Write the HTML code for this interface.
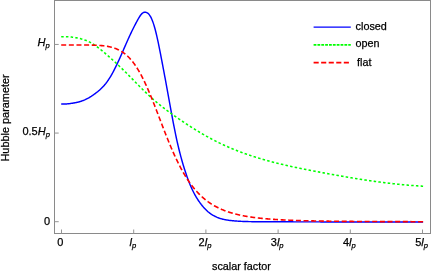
<!DOCTYPE html>
<html><head><meta charset="utf-8"><title>plot</title>
<style>
html,body{margin:0;padding:0;background:#fff;}
svg{display:block;}
text{font-family:"Liberation Sans",sans-serif;fill:#000;stroke:#000;stroke-width:0.25px;}
</style></head><body>
<svg width="432" height="273" viewBox="0 0 432 273">
<rect width="432" height="273" fill="#fff"/>
<rect x="54.5" y="0.5" width="376.0" height="233.0" fill="none" stroke="#8a8a8a" stroke-width="1"/>
<path d="M61.50,233.5 V229.5 M133.70,233.5 V229.5 M205.90,233.5 V229.5 M278.10,233.5 V229.5 M350.30,233.5 V229.5 M422.50,233.5 V229.5 M54.5,221.70 H58.7 M54.5,133.07 H58.7 M54.5,44.45 H58.7" stroke="#949494" stroke-width="1" fill="none"/>
<path d="M61.2,104.00 L61.7,104.02 L62.2,104.04 L62.7,104.05 L63.2,104.05 L63.7,104.05 L64.2,104.04 L64.7,104.03 L65.2,104.01 L65.7,103.98 L66.2,103.95 L66.7,103.91 L67.2,103.87 L67.7,103.82 L68.2,103.77 L68.7,103.72 L69.2,103.66 L69.7,103.60 L70.2,103.54 L70.7,103.47 L71.2,103.40 L71.7,103.32 L72.2,103.25 L72.7,103.17 L73.2,103.09 L73.7,103.01 L74.2,102.92 L74.7,102.83 L75.2,102.74 L75.7,102.64 L76.2,102.54 L76.7,102.43 L77.2,102.32 L77.7,102.20 L78.2,102.08 L78.7,101.95 L79.2,101.82 L79.7,101.68 L80.2,101.53 L80.7,101.38 L81.2,101.22 L81.7,101.05 L82.2,100.87 L82.7,100.69 L83.2,100.50 L83.7,100.30 L84.2,100.09 L84.7,99.88 L85.2,99.65 L85.7,99.42 L86.2,99.18 L86.7,98.93 L87.2,98.67 L87.7,98.40 L88.2,98.13 L88.7,97.84 L89.2,97.56 L89.7,97.26 L90.2,96.95 L90.7,96.64 L91.2,96.33 L91.7,96.00 L92.2,95.67 L92.7,95.33 L93.2,94.99 L93.7,94.64 L94.2,94.28 L94.7,93.92 L95.2,93.55 L95.7,93.17 L96.2,92.79 L96.7,92.41 L97.2,92.01 L97.7,91.62 L98.2,91.21 L98.7,90.79 L99.2,90.37 L99.7,89.93 L100.2,89.48 L100.7,89.02 L101.2,88.55 L101.7,88.07 L102.2,87.57 L102.7,87.06 L103.2,86.53 L103.7,85.98 L104.2,85.42 L104.7,84.84 L105.2,84.24 L105.7,83.63 L106.2,82.99 L106.7,82.33 L107.2,81.65 L107.7,80.95 L108.2,80.22 L108.7,79.47 L109.2,78.70 L109.7,77.91 L110.2,77.10 L110.7,76.26 L111.2,75.41 L111.7,74.53 L112.2,73.64 L112.7,72.73 L113.2,71.80 L113.7,70.85 L114.2,69.89 L114.7,68.91 L115.2,67.92 L115.7,66.91 L116.2,65.88 L116.7,64.85 L117.2,63.80 L117.7,62.74 L118.2,61.67 L118.7,60.58 L119.2,59.49 L119.7,58.38 L120.2,57.27 L120.7,56.15 L121.2,55.02 L121.7,53.89 L122.2,52.75 L122.7,51.60 L123.2,50.46 L123.7,49.31 L124.2,48.16 L124.7,47.01 L125.2,45.86 L125.7,44.72 L126.2,43.58 L126.7,42.44 L127.2,41.31 L127.7,40.18 L128.2,39.06 L128.7,37.96 L129.2,36.86 L129.7,35.77 L130.2,34.69 L130.7,33.63 L131.2,32.58 L131.7,31.54 L132.2,30.51 L132.7,29.50 L133.2,28.49 L133.7,27.50 L134.2,26.52 L134.7,25.54 L135.2,24.58 L135.7,23.63 L136.2,22.68 L136.7,21.74 L137.2,20.82 L137.7,19.90 L138.2,19.00 L138.7,18.13 L139.2,17.29 L139.7,16.49 L140.2,15.75 L140.7,15.06 L141.2,14.43 L141.7,13.87 L142.2,13.40 L142.7,13.00 L143.2,12.69 L143.7,12.46 L144.2,12.30 L144.7,12.21 L145.2,12.20 L145.7,12.25 L146.2,12.37 L146.7,12.56 L147.2,12.82 L147.7,13.15 L148.2,13.56 L148.7,14.05 L149.2,14.64 L149.7,15.31 L150.2,16.09 L150.7,16.96 L151.2,17.93 L151.7,19.01 L152.2,20.19 L152.7,21.48 L153.2,22.87 L153.7,24.37 L154.2,25.98 L154.7,27.70 L155.2,29.52 L155.7,31.46 L156.2,33.49 L156.7,35.62 L157.2,37.83 L157.7,40.11 L158.2,42.47 L158.7,44.88 L159.2,47.34 L159.7,49.85 L160.2,52.39 L160.7,54.96 L161.2,57.55 L161.7,60.15 L162.2,62.76 L162.7,65.39 L163.2,68.03 L163.7,70.68 L164.2,73.34 L164.7,76.02 L165.2,78.70 L165.7,81.40 L166.2,84.11 L166.7,86.83 L167.2,89.56 L167.7,92.30 L168.2,95.05 L168.7,97.81 L169.2,100.57 L169.7,103.33 L170.2,106.09 L170.7,108.84 L171.2,111.57 L171.7,114.29 L172.2,116.99 L172.7,119.66 L173.2,122.29 L173.7,124.90 L174.2,127.46 L174.7,129.98 L175.2,132.46 L175.7,134.88 L176.2,137.24 L176.7,139.55 L177.2,141.80 L177.7,143.99 L178.2,146.13 L178.7,148.22 L179.2,150.26 L179.7,152.25 L180.2,154.19 L180.7,156.08 L181.2,157.93 L181.7,159.74 L182.2,161.50 L182.7,163.23 L183.2,164.92 L183.7,166.57 L184.2,168.18 L184.7,169.76 L185.2,171.31 L185.7,172.82 L186.2,174.30 L186.7,175.75 L187.2,177.16 L187.7,178.54 L188.2,179.89 L188.7,181.20 L189.2,182.48 L189.7,183.73 L190.2,184.94 L190.7,186.12 L191.2,187.27 L191.7,188.38 L192.2,189.47 L192.7,190.52 L193.2,191.54 L193.7,192.53 L194.2,193.49 L194.7,194.42 L195.2,195.32 L195.7,196.20 L196.2,197.05 L196.7,197.88 L197.2,198.69 L197.7,199.47 L198.2,200.24 L198.7,200.98 L199.2,201.70 L199.7,202.40 L200.2,203.09 L200.7,203.76 L201.2,204.42 L201.7,205.05 L202.2,205.67 L202.7,206.28 L203.2,206.87 L203.7,207.44 L204.2,207.99 L204.7,208.53 L205.2,209.06 L205.7,209.57 L206.2,210.06 L206.7,210.54 L207.2,211.00 L207.7,211.45 L208.2,211.88 L208.7,212.29 L209.2,212.70 L209.7,213.08 L210.2,213.46 L210.7,213.81 L211.2,214.16 L211.7,214.49 L212.2,214.81 L212.7,215.12 L213.2,215.42 L213.7,215.70 L214.2,215.97 L214.7,216.23 L215.2,216.48 L215.7,216.72 L216.2,216.95 L216.7,217.17 L217.2,217.39 L217.7,217.59 L218.2,217.78 L218.7,217.97 L219.2,218.14 L219.7,218.31 L220.2,218.48 L220.7,218.63 L221.2,218.78 L221.7,218.92 L222.2,219.05 L222.7,219.18 L223.2,219.30 L223.7,219.41 L224.2,219.52 L224.7,219.63 L225.2,219.73 L225.7,219.82 L226.2,219.91 L226.7,219.99 L227.2,220.07 L227.7,220.15 L228.2,220.22 L228.7,220.29 L229.2,220.36 L229.7,220.42 L230.2,220.48 L230.7,220.53 L231.2,220.59 L231.7,220.64 L232.2,220.69 L232.7,220.74 L233.2,220.79 L233.7,220.83 L234.2,220.88 L234.7,220.92 L235.2,220.96 L235.7,221.00 L236.2,221.04 L236.7,221.08 L237.2,221.11 L237.7,221.15 L238.2,221.18 L238.7,221.21 L239.2,221.24 L239.7,221.27 L240.2,221.30 L240.7,221.32 L241.2,221.35 L241.7,221.37 L242.2,221.39 L242.6,221.42 L243.1,221.44 L243.6,221.46 L244.1,221.47 L244.6,221.49 L245.1,221.51 L245.6,221.52 L246.1,221.54 L246.6,221.55 L247.1,221.57 L247.6,221.58 L248.1,221.59 L248.6,221.60 L249.1,221.61 L249.6,221.62 L250.1,221.63 L250.6,221.64 L251.1,221.65 L251.6,221.65 L252.1,221.66 L252.6,221.67 L253.1,221.67 L253.6,221.68 L254.1,221.68 L254.6,221.69 L255.1,221.69 L255.6,221.69 L256.1,221.70 L256.6,221.70 L257.1,221.71 L257.6,221.71 L258.1,221.71 L258.6,221.71 L259.1,221.72 L259.6,221.72 L260.1,221.72 L260.6,221.72 L261.1,221.73 L261.6,221.73 L262.1,221.73 L262.6,221.73 L263.1,221.74 L263.6,221.74 L264.1,221.74 L264.6,221.74 L265.1,221.74 L265.6,221.75 L266.1,221.75 L266.6,221.75 L267.1,221.75 L267.6,221.76 L268.1,221.76 L268.6,221.76 L269.1,221.76 L269.6,221.76 L270.1,221.77 L270.6,221.77 L271.1,221.77 L271.6,221.77 L272.1,221.77 L272.6,221.78 L273.1,221.78 L273.6,221.78 L274.1,221.78 L274.6,221.78 L275.1,221.79 L275.6,221.79 L276.1,221.79 L276.6,221.79 L277.1,221.79 L277.6,221.80 L278.1,221.80 L278.6,221.80 L279.1,221.80 L279.6,221.80 L280.1,221.80 L280.6,221.81 L281.1,221.81 L281.6,221.81 L282.1,221.81 L282.6,221.81 L283.1,221.81 L283.6,221.82 L284.1,221.82 L284.6,221.82 L285.1,221.82 L285.6,221.82 L286.1,221.82 L286.6,221.83 L287.1,221.83 L287.6,221.83 L288.1,221.83 L288.6,221.83 L289.1,221.83 L289.6,221.83 L290.1,221.84 L290.6,221.84 L291.1,221.84 L291.6,221.84 L292.1,221.84 L292.6,221.84 L293.1,221.84 L293.6,221.85 L294.1,221.85 L294.6,221.85 L295.1,221.85 L295.6,221.85 L296.1,221.85 L296.6,221.85 L297.1,221.85 L297.6,221.86 L298.1,221.86 L298.6,221.86 L299.1,221.86 L299.6,221.86 L300.1,221.86 L300.6,221.86 L301.1,221.86 L301.6,221.86 L302.1,221.87 L302.6,221.87 L303.1,221.87 L303.6,221.87 L304.1,221.87 L304.6,221.87 L305.1,221.87 L305.6,221.87 L306.1,221.87 L306.6,221.87 L307.1,221.88 L307.6,221.88 L308.1,221.88 L308.6,221.88 L309.1,221.88 L309.6,221.88 L310.1,221.88 L310.6,221.88 L311.1,221.88 L311.6,221.88 L312.1,221.88 L312.6,221.88 L313.1,221.89 L313.6,221.89 L314.1,221.89 L314.6,221.89 L315.1,221.89 L315.6,221.89 L316.1,221.89 L316.6,221.89 L317.1,221.89 L317.6,221.89 L318.1,221.89 L318.6,221.89 L319.1,221.89 L319.6,221.89 L320.1,221.90 L320.6,221.90 L321.1,221.90 L321.6,221.90 L322.1,221.90 L322.6,221.90 L323.1,221.90 L323.6,221.90 L324.1,221.90 L324.6,221.90 L325.1,221.90 L325.6,221.90 L326.1,221.90 L326.6,221.90 L327.1,221.90 L327.6,221.90 L328.1,221.90 L328.6,221.90 L329.1,221.90 L329.6,221.90 L330.1,221.90 L330.6,221.90 L331.1,221.90 L331.6,221.90 L332.1,221.90 L332.6,221.90 L333.1,221.90 L333.6,221.90 L334.1,221.90 L334.6,221.90 L335.1,221.90 L335.6,221.90 L336.1,221.90 L336.6,221.90 L337.1,221.90 L337.6,221.90 L338.1,221.90 L338.6,221.90 L339.1,221.90 L339.6,221.90 L340.1,221.90 L340.6,221.90 L341.1,221.90 L341.6,221.90 L342.1,221.90 L342.6,221.90 L343.1,221.90 L343.6,221.90 L344.1,221.90 L344.6,221.90 L345.1,221.90 L345.6,221.90 L346.1,221.90 L346.6,221.90 L347.1,221.90 L347.6,221.90 L348.1,221.90 L348.6,221.90 L349.1,221.90 L349.6,221.90 L350.1,221.90 L350.6,221.90 L351.1,221.90 L351.6,221.90 L352.1,221.90 L352.6,221.90 L353.1,221.90 L353.6,221.90 L354.1,221.90 L354.6,221.90 L355.1,221.90 L355.6,221.90 L356.1,221.90 L356.6,221.90 L357.1,221.90 L357.6,221.90 L358.1,221.90 L358.6,221.90 L359.1,221.90 L359.6,221.90 L360.1,221.90 L360.6,221.90 L361.1,221.90 L361.6,221.90 L362.1,221.90 L362.6,221.90 L363.1,221.90 L363.6,221.90 L364.1,221.90 L364.6,221.90 L365.1,221.90 L365.6,221.90 L366.1,221.90 L366.6,221.90 L367.1,221.90 L367.6,221.90 L368.1,221.90 L368.6,221.90 L369.1,221.90 L369.6,221.90 L370.1,221.90 L370.6,221.90 L371.1,221.90 L371.6,221.90 L372.1,221.90 L372.6,221.90 L373.1,221.90 L373.6,221.90 L374.1,221.90 L374.6,221.90 L375.1,221.90 L375.6,221.90 L376.1,221.90 L376.6,221.90 L377.1,221.90 L377.6,221.90 L378.1,221.90 L378.6,221.90 L379.1,221.90 L379.6,221.90 L380.1,221.90 L380.6,221.90 L381.1,221.90 L381.6,221.90 L382.1,221.90 L382.6,221.90 L383.1,221.90 L383.6,221.90 L384.1,221.90 L384.6,221.90 L385.1,221.90 L385.6,221.90 L386.1,221.90 L386.6,221.90 L387.1,221.90 L387.6,221.90 L388.1,221.90 L388.6,221.90 L389.1,221.90 L389.6,221.90 L390.1,221.90 L390.6,221.90 L391.1,221.90 L391.6,221.90 L392.1,221.90 L392.6,221.90 L393.1,221.90 L393.6,221.90 L394.1,221.90 L394.6,221.90 L395.1,221.90 L395.6,221.90 L396.1,221.90 L396.6,221.90 L397.1,221.90 L397.6,221.90 L398.1,221.90 L398.6,221.90 L399.1,221.90 L399.6,221.90 L400.1,221.90 L400.6,221.90 L401.1,221.90 L401.6,221.90 L402.1,221.90 L402.6,221.90 L403.1,221.90 L403.6,221.90 L404.1,221.90 L404.6,221.90 L405.1,221.90 L405.6,221.90 L406.1,221.90 L406.6,221.90 L407.1,221.90 L407.6,221.90 L408.1,221.90 L408.6,221.90 L409.1,221.90 L409.6,221.90 L410.1,221.90 L410.6,221.90 L411.1,221.90 L411.6,221.90 L412.1,221.90 L412.6,221.90 L413.1,221.90 L413.6,221.90 L414.1,221.90 L414.6,221.90 L415.1,221.90 L415.6,221.90 L416.1,221.90 L416.6,221.90 L417.1,221.90 L417.6,221.90 L418.1,221.90 L418.6,221.90 L419.1,221.90 L419.6,221.90 L420.1,221.90 L420.6,221.90 L421.1,221.90 L421.6,221.90 L422.1,221.90 L422.6,221.90 L423.1,221.90" stroke="#0000ff" stroke-width="1.45" fill="none"/>
<path d="M61.2,36.76 L61.7,36.73 L62.2,36.70 L62.7,36.68 L63.2,36.66 L63.7,36.65 L64.2,36.64 L64.7,36.64 L65.2,36.65 L65.7,36.65 L66.2,36.67 L66.7,36.69 L67.2,36.71 L67.7,36.73 L68.2,36.77 L68.7,36.80 L69.2,36.84 L69.7,36.89 L70.2,36.93 L70.7,36.98 L71.2,37.04 L71.7,37.10 L72.2,37.16 L72.7,37.23 L73.2,37.30 L73.7,37.37 L74.2,37.45 L74.7,37.52 L75.2,37.61 L75.7,37.69 L76.2,37.78 L76.7,37.87 L77.2,37.97 L77.7,38.06 L78.2,38.17 L78.7,38.27 L79.2,38.39 L79.7,38.50 L80.2,38.62 L80.7,38.75 L81.2,38.88 L81.7,39.02 L82.2,39.16 L82.7,39.31 L83.2,39.46 L83.7,39.62 L84.2,39.79 L84.7,39.97 L85.2,40.15 L85.7,40.33 L86.2,40.53 L86.7,40.73 L87.2,40.94 L87.7,41.16 L88.2,41.39 L88.7,41.63 L89.2,41.87 L89.7,42.12 L90.2,42.39 L90.7,42.66 L91.2,42.94 L91.7,43.23 L92.2,43.52 L92.7,43.83 L93.2,44.14 L93.7,44.46 L94.2,44.79 L94.7,45.13 L95.2,45.47 L95.7,45.82 L96.2,46.17 L96.7,46.53 L97.2,46.90 L97.7,47.27 L98.2,47.65 L98.7,48.03 L99.2,48.42 L99.7,48.81 L100.2,49.21 L100.7,49.61 L101.2,50.01 L101.7,50.42 L102.2,50.83 L102.7,51.25 L103.2,51.67 L103.7,52.09 L104.2,52.51 L104.7,52.93 L105.2,53.36 L105.7,53.79 L106.2,54.22 L106.7,54.65 L107.2,55.09 L107.7,55.52 L108.2,55.96 L108.7,56.40 L109.2,56.84 L109.7,57.28 L110.2,57.72 L110.7,58.17 L111.2,58.62 L111.7,59.06 L112.2,59.51 L112.7,59.97 L113.2,60.42 L113.7,60.88 L114.2,61.33 L114.7,61.79 L115.2,62.25 L115.7,62.72 L116.2,63.18 L116.7,63.65 L117.2,64.11 L117.7,64.58 L118.2,65.05 L118.7,65.53 L119.2,66.00 L119.7,66.48 L120.2,66.96 L120.7,67.44 L121.2,67.92 L121.7,68.40 L122.2,68.88 L122.7,69.37 L123.2,69.86 L123.7,70.35 L124.2,70.84 L124.7,71.33 L125.2,71.83 L125.7,72.32 L126.2,72.82 L126.7,73.32 L127.2,73.82 L127.7,74.32 L128.2,74.82 L128.7,75.33 L129.2,75.83 L129.7,76.34 L130.2,76.84 L130.7,77.35 L131.2,77.86 L131.7,78.37 L132.2,78.88 L132.7,79.39 L133.2,79.90 L133.7,80.40 L134.2,80.91 L134.7,81.42 L135.2,81.93 L135.7,82.44 L136.2,82.95 L136.7,83.46 L137.2,83.96 L137.7,84.47 L138.2,84.98 L138.7,85.48 L139.2,85.99 L139.7,86.49 L140.2,86.99 L140.7,87.49 L141.2,87.99 L141.7,88.49 L142.2,88.98 L142.7,89.48 L143.2,89.97 L143.7,90.46 L144.2,90.95 L144.7,91.44 L145.2,91.92 L145.7,92.41 L146.2,92.89 L146.7,93.37 L147.2,93.84 L147.7,94.32 L148.2,94.79 L148.7,95.25 L149.2,95.72 L149.7,96.18 L150.2,96.64 L150.7,97.09 L151.2,97.55 L151.7,98.00 L152.2,98.44 L152.7,98.89 L153.2,99.33 L153.7,99.76 L154.2,100.20 L154.7,100.63 L155.2,101.06 L155.7,101.49 L156.2,101.91 L156.7,102.33 L157.2,102.75 L157.7,103.16 L158.2,103.58 L158.7,103.99 L159.2,104.40 L159.7,104.80 L160.2,105.21 L160.7,105.61 L161.2,106.01 L161.7,106.40 L162.2,106.80 L162.7,107.19 L163.2,107.58 L163.7,107.97 L164.2,108.35 L164.7,108.74 L165.2,109.12 L165.7,109.50 L166.2,109.87 L166.7,110.25 L167.2,110.62 L167.7,111.00 L168.2,111.37 L168.7,111.74 L169.2,112.10 L169.7,112.47 L170.2,112.83 L170.7,113.19 L171.2,113.55 L171.7,113.91 L172.2,114.27 L172.7,114.63 L173.2,114.98 L173.7,115.33 L174.2,115.69 L174.7,116.04 L175.2,116.39 L175.7,116.73 L176.2,117.08 L176.7,117.43 L177.2,117.77 L177.7,118.12 L178.2,118.46 L178.7,118.80 L179.2,119.14 L179.7,119.48 L180.2,119.82 L180.7,120.16 L181.2,120.50 L181.7,120.83 L182.2,121.17 L182.7,121.50 L183.2,121.84 L183.7,122.17 L184.2,122.50 L184.7,122.83 L185.2,123.17 L185.7,123.49 L186.2,123.82 L186.7,124.15 L187.2,124.48 L187.7,124.80 L188.2,125.13 L188.7,125.45 L189.2,125.77 L189.7,126.09 L190.2,126.41 L190.7,126.73 L191.2,127.05 L191.7,127.37 L192.2,127.69 L192.7,128.00 L193.2,128.32 L193.7,128.63 L194.2,128.94 L194.7,129.25 L195.2,129.56 L195.7,129.87 L196.2,130.18 L196.7,130.48 L197.2,130.79 L197.7,131.09 L198.2,131.39 L198.7,131.69 L199.2,131.99 L199.7,132.29 L200.2,132.59 L200.7,132.89 L201.2,133.18 L201.7,133.48 L202.2,133.77 L202.7,134.06 L203.2,134.35 L203.7,134.64 L204.2,134.93 L204.7,135.21 L205.2,135.50 L205.7,135.78 L206.2,136.06 L206.7,136.34 L207.2,136.62 L207.7,136.90 L208.2,137.17 L208.7,137.45 L209.2,137.72 L209.7,138.00 L210.2,138.27 L210.7,138.53 L211.2,138.80 L211.7,139.07 L212.2,139.33 L212.7,139.60 L213.2,139.86 L213.7,140.12 L214.2,140.38 L214.7,140.63 L215.2,140.89 L215.7,141.14 L216.2,141.40 L216.7,141.65 L217.2,141.90 L217.7,142.14 L218.2,142.39 L218.7,142.64 L219.2,142.88 L219.7,143.12 L220.2,143.36 L220.7,143.60 L221.2,143.84 L221.7,144.07 L222.2,144.31 L222.7,144.54 L223.2,144.77 L223.7,145.00 L224.2,145.23 L224.7,145.46 L225.2,145.69 L225.7,145.91 L226.2,146.13 L226.7,146.36 L227.2,146.58 L227.7,146.80 L228.2,147.01 L228.7,147.23 L229.2,147.44 L229.7,147.66 L230.2,147.87 L230.7,148.08 L231.2,148.29 L231.7,148.50 L232.2,148.71 L232.7,148.91 L233.2,149.12 L233.7,149.32 L234.2,149.53 L234.7,149.73 L235.2,149.93 L235.7,150.12 L236.2,150.32 L236.7,150.52 L237.2,150.71 L237.7,150.91 L238.2,151.10 L238.7,151.29 L239.2,151.48 L239.7,151.67 L240.2,151.86 L240.7,152.05 L241.2,152.23 L241.7,152.42 L242.2,152.60 L242.6,152.78 L243.1,152.96 L243.6,153.14 L244.1,153.32 L244.6,153.50 L245.1,153.68 L245.6,153.85 L246.1,154.03 L246.6,154.20 L247.1,154.37 L247.6,154.55 L248.1,154.72 L248.6,154.89 L249.1,155.06 L249.6,155.22 L250.1,155.39 L250.6,155.56 L251.1,155.72 L251.6,155.88 L252.1,156.05 L252.6,156.21 L253.1,156.37 L253.6,156.53 L254.1,156.69 L254.6,156.85 L255.1,157.01 L255.6,157.16 L256.1,157.32 L256.6,157.47 L257.1,157.63 L257.6,157.78 L258.1,157.93 L258.6,158.08 L259.1,158.23 L259.6,158.38 L260.1,158.53 L260.6,158.68 L261.1,158.83 L261.6,158.98 L262.1,159.12 L262.6,159.27 L263.1,159.41 L263.6,159.55 L264.1,159.70 L264.6,159.84 L265.1,159.98 L265.6,160.12 L266.1,160.26 L266.6,160.40 L267.1,160.54 L267.6,160.67 L268.1,160.81 L268.6,160.95 L269.1,161.08 L269.6,161.22 L270.1,161.35 L270.6,161.48 L271.1,161.62 L271.6,161.75 L272.1,161.88 L272.6,162.01 L273.1,162.14 L273.6,162.27 L274.1,162.40 L274.6,162.52 L275.1,162.65 L275.6,162.78 L276.1,162.90 L276.6,163.03 L277.1,163.15 L277.6,163.28 L278.1,163.40 L278.6,163.53 L279.1,163.65 L279.6,163.77 L280.1,163.89 L280.6,164.01 L281.1,164.13 L281.6,164.25 L282.1,164.37 L282.6,164.49 L283.1,164.61 L283.6,164.72 L284.1,164.84 L284.6,164.96 L285.1,165.07 L285.6,165.19 L286.1,165.30 L286.6,165.42 L287.1,165.53 L287.6,165.64 L288.1,165.76 L288.6,165.87 L289.1,165.98 L289.6,166.09 L290.1,166.20 L290.6,166.31 L291.1,166.42 L291.6,166.53 L292.1,166.64 L292.6,166.75 L293.1,166.86 L293.6,166.97 L294.1,167.07 L294.6,167.18 L295.1,167.29 L295.6,167.39 L296.1,167.50 L296.6,167.60 L297.1,167.71 L297.6,167.81 L298.1,167.92 L298.6,168.02 L299.1,168.13 L299.6,168.23 L300.1,168.33 L300.6,168.43 L301.1,168.54 L301.6,168.64 L302.1,168.74 L302.6,168.84 L303.1,168.94 L303.6,169.04 L304.1,169.14 L304.6,169.24 L305.1,169.34 L305.6,169.44 L306.1,169.54 L306.6,169.64 L307.1,169.74 L307.6,169.84 L308.1,169.93 L308.6,170.03 L309.1,170.13 L309.6,170.23 L310.1,170.32 L310.6,170.42 L311.1,170.52 L311.6,170.61 L312.1,170.71 L312.6,170.81 L313.1,170.90 L313.6,171.00 L314.1,171.09 L314.6,171.19 L315.1,171.28 L315.6,171.38 L316.1,171.47 L316.6,171.57 L317.1,171.66 L317.6,171.76 L318.1,171.85 L318.6,171.95 L319.1,172.04 L319.6,172.13 L320.1,172.23 L320.6,172.32 L321.1,172.42 L321.6,172.51 L322.1,172.60 L322.6,172.70 L323.1,172.79 L323.6,172.88 L324.1,172.98 L324.6,173.07 L325.1,173.16 L325.6,173.25 L326.1,173.35 L326.6,173.44 L327.1,173.53 L327.6,173.62 L328.1,173.71 L328.6,173.81 L329.1,173.90 L329.6,173.99 L330.1,174.08 L330.6,174.17 L331.1,174.26 L331.6,174.35 L332.1,174.44 L332.6,174.53 L333.1,174.62 L333.6,174.71 L334.1,174.80 L334.6,174.89 L335.1,174.98 L335.6,175.07 L336.1,175.16 L336.6,175.25 L337.1,175.34 L337.6,175.43 L338.1,175.52 L338.6,175.61 L339.1,175.69 L339.6,175.78 L340.1,175.87 L340.6,175.96 L341.1,176.05 L341.6,176.13 L342.1,176.22 L342.6,176.31 L343.1,176.39 L343.6,176.48 L344.1,176.57 L344.6,176.65 L345.1,176.74 L345.6,176.82 L346.1,176.91 L346.6,177.00 L347.1,177.08 L347.6,177.16 L348.1,177.25 L348.6,177.33 L349.1,177.42 L349.6,177.50 L350.1,177.59 L350.6,177.67 L351.1,177.75 L351.6,177.83 L352.1,177.92 L352.6,178.00 L353.1,178.08 L353.6,178.16 L354.1,178.25 L354.6,178.33 L355.1,178.41 L355.6,178.49 L356.1,178.57 L356.6,178.65 L357.1,178.73 L357.6,178.81 L358.1,178.89 L358.6,178.97 L359.1,179.05 L359.6,179.13 L360.1,179.21 L360.6,179.29 L361.1,179.36 L361.6,179.44 L362.1,179.52 L362.6,179.60 L363.1,179.67 L363.6,179.75 L364.1,179.83 L364.6,179.90 L365.1,179.98 L365.6,180.05 L366.1,180.13 L366.6,180.20 L367.1,180.28 L367.6,180.35 L368.1,180.43 L368.6,180.50 L369.1,180.57 L369.6,180.65 L370.1,180.72 L370.6,180.79 L371.1,180.86 L371.6,180.93 L372.1,181.01 L372.6,181.08 L373.1,181.15 L373.6,181.22 L374.1,181.29 L374.6,181.36 L375.1,181.43 L375.6,181.50 L376.1,181.57 L376.6,181.63 L377.1,181.70 L377.6,181.77 L378.1,181.84 L378.6,181.90 L379.1,181.97 L379.6,182.04 L380.1,182.10 L380.6,182.17 L381.1,182.23 L381.6,182.30 L382.1,182.36 L382.6,182.43 L383.1,182.49 L383.6,182.55 L384.1,182.62 L384.6,182.68 L385.1,182.74 L385.6,182.80 L386.1,182.87 L386.6,182.93 L387.1,182.99 L387.6,183.05 L388.1,183.11 L388.6,183.17 L389.1,183.23 L389.6,183.29 L390.1,183.34 L390.6,183.40 L391.1,183.46 L391.6,183.52 L392.1,183.57 L392.6,183.63 L393.1,183.69 L393.6,183.74 L394.1,183.80 L394.6,183.85 L395.1,183.91 L395.6,183.96 L396.1,184.01 L396.6,184.07 L397.1,184.12 L397.6,184.17 L398.1,184.22 L398.6,184.27 L399.1,184.32 L399.6,184.37 L400.1,184.42 L400.6,184.47 L401.1,184.52 L401.6,184.57 L402.1,184.62 L402.6,184.67 L403.1,184.72 L403.6,184.76 L404.1,184.81 L404.6,184.85 L405.1,184.90 L405.6,184.95 L406.1,184.99 L406.6,185.03 L407.1,185.08 L407.6,185.12 L408.1,185.16 L408.6,185.21 L409.1,185.25 L409.6,185.29 L410.1,185.33 L410.6,185.37 L411.1,185.41 L411.6,185.45 L412.1,185.49 L412.6,185.53 L413.1,185.56 L413.6,185.60 L414.1,185.64 L414.6,185.67 L415.1,185.71 L415.6,185.74 L416.1,185.78 L416.6,185.81 L417.1,185.85 L417.6,185.88 L418.1,185.91 L418.6,185.95 L419.1,185.98 L419.6,186.01 L420.1,186.04 L420.6,186.07 L421.1,186.10 L421.6,186.13 L422.1,186.16 L422.6,186.18 L423.1,186.21" stroke="#00ff00" stroke-width="1.55" stroke-dasharray="2.5 2.22" fill="none"/>
<path d="M61.2,45.01 L61.7,45.01 L62.2,45.01 L62.7,45.01 L63.2,45.01 L63.7,45.01 L64.2,45.01 L64.7,45.01 L65.2,45.01 L65.7,45.01 L66.2,45.01 L66.7,45.01 L67.2,45.01 L67.7,45.01 L68.2,45.01 L68.7,45.01 L69.2,45.01 L69.7,45.01 L70.2,45.01 L70.7,45.01 L71.2,45.01 L71.7,45.01 L72.2,45.01 L72.7,45.01 L73.2,45.01 L73.7,45.01 L74.2,45.01 L74.7,45.01 L75.2,45.02 L75.7,45.02 L76.2,45.02 L76.7,45.02 L77.2,45.02 L77.7,45.02 L78.2,45.02 L78.7,45.02 L79.2,45.02 L79.7,45.02 L80.2,45.02 L80.7,45.02 L81.2,45.02 L81.7,45.02 L82.2,45.03 L82.7,45.03 L83.2,45.03 L83.7,45.03 L84.2,45.03 L84.7,45.04 L85.2,45.04 L85.7,45.04 L86.2,45.05 L86.7,45.05 L87.2,45.06 L87.7,45.06 L88.2,45.07 L88.7,45.07 L89.2,45.08 L89.7,45.09 L90.2,45.10 L90.7,45.11 L91.2,45.11 L91.7,45.13 L92.2,45.14 L92.7,45.15 L93.2,45.16 L93.7,45.18 L94.2,45.19 L94.7,45.21 L95.2,45.23 L95.7,45.25 L96.2,45.27 L96.7,45.29 L97.2,45.32 L97.7,45.34 L98.2,45.37 L98.7,45.40 L99.2,45.43 L99.7,45.47 L100.2,45.50 L100.7,45.54 L101.2,45.58 L101.7,45.62 L102.2,45.67 L102.7,45.72 L103.2,45.77 L103.7,45.83 L104.2,45.89 L104.7,45.95 L105.2,46.02 L105.7,46.09 L106.2,46.16 L106.7,46.24 L107.2,46.32 L107.7,46.41 L108.2,46.50 L108.7,46.60 L109.2,46.70 L109.7,46.81 L110.2,46.92 L110.7,47.04 L111.2,47.16 L111.7,47.29 L112.2,47.43 L112.7,47.57 L113.2,47.72 L113.7,47.88 L114.2,48.05 L114.7,48.22 L115.2,48.40 L115.7,48.59 L116.2,48.78 L116.7,48.99 L117.2,49.20 L117.7,49.43 L118.2,49.66 L118.7,49.90 L119.2,50.16 L119.7,50.42 L120.2,50.70 L120.7,50.98 L121.2,51.28 L121.7,51.58 L122.2,51.90 L122.7,52.24 L123.2,52.58 L123.7,52.94 L124.2,53.31 L124.7,53.69 L125.2,54.08 L125.7,54.49 L126.2,54.92 L126.7,55.36 L127.2,55.81 L127.7,56.28 L128.2,56.76 L128.7,57.26 L129.2,57.77 L129.7,58.30 L130.2,58.85 L130.7,59.41 L131.2,59.99 L131.7,60.58 L132.2,61.20 L132.7,61.83 L133.2,62.47 L133.7,63.14 L134.2,63.82 L134.7,64.51 L135.2,65.23 L135.7,65.96 L136.2,66.72 L136.7,67.49 L137.2,68.27 L137.7,69.08 L138.2,69.90 L138.7,70.74 L139.2,71.60 L139.7,72.48 L140.2,73.37 L140.7,74.28 L141.2,75.21 L141.7,76.16 L142.2,77.12 L142.7,78.10 L143.2,79.10 L143.7,80.11 L144.2,81.14 L144.7,82.18 L145.2,83.24 L145.7,84.32 L146.2,85.41 L146.7,86.52 L147.2,87.64 L147.7,88.77 L148.2,89.91 L148.7,91.07 L149.2,92.25 L149.7,93.43 L150.2,94.62 L150.7,95.83 L151.2,97.05 L151.7,98.27 L152.2,99.51 L152.7,100.75 L153.2,102.01 L153.7,103.27 L154.2,104.53 L154.7,105.81 L155.2,107.09 L155.7,108.37 L156.2,109.66 L156.7,110.96 L157.2,112.25 L157.7,113.56 L158.2,114.86 L158.7,116.16 L159.2,117.47 L159.7,118.77 L160.2,120.08 L160.7,121.39 L161.2,122.69 L161.7,123.99 L162.2,125.29 L162.7,126.59 L163.2,127.88 L163.7,129.17 L164.2,130.46 L164.7,131.74 L165.2,133.01 L165.7,134.28 L166.2,135.54 L166.7,136.80 L167.2,138.05 L167.7,139.29 L168.2,140.52 L168.7,141.74 L169.2,142.96 L169.7,144.16 L170.2,145.36 L170.7,146.55 L171.2,147.72 L171.7,148.89 L172.2,150.04 L172.7,151.19 L173.2,152.32 L173.7,153.44 L174.2,154.55 L174.7,155.65 L175.2,156.73 L175.7,157.80 L176.2,158.86 L176.7,159.91 L177.2,160.95 L177.7,161.97 L178.2,162.98 L178.7,163.98 L179.2,164.96 L179.7,165.93 L180.2,166.89 L180.7,167.84 L181.2,168.77 L181.7,169.69 L182.2,170.59 L182.7,171.49 L183.2,172.37 L183.7,173.23 L184.2,174.09 L184.7,174.93 L185.2,175.75 L185.7,176.57 L186.2,177.37 L186.7,178.16 L187.2,178.94 L187.7,179.70 L188.2,180.46 L188.7,181.20 L189.2,181.92 L189.7,182.64 L190.2,183.34 L190.7,184.03 L191.2,184.71 L191.7,185.38 L192.2,186.04 L192.7,186.68 L193.2,187.32 L193.7,187.94 L194.2,188.56 L194.7,189.16 L195.2,189.75 L195.7,190.33 L196.2,190.90 L196.7,191.46 L197.2,192.01 L197.7,192.55 L198.2,193.08 L198.7,193.60 L199.2,194.11 L199.7,194.61 L200.2,195.10 L200.7,195.59 L201.2,196.06 L201.7,196.52 L202.2,196.98 L202.7,197.43 L203.2,197.87 L203.7,198.30 L204.2,198.72 L204.7,199.14 L205.2,199.55 L205.7,199.95 L206.2,200.34 L206.7,200.73 L207.2,201.10 L207.7,201.47 L208.2,201.84 L208.7,202.19 L209.2,202.54 L209.7,202.89 L210.2,203.23 L210.7,203.56 L211.2,203.88 L211.7,204.20 L212.2,204.51 L212.7,204.82 L213.2,205.12 L213.7,205.41 L214.2,205.70 L214.7,205.98 L215.2,206.26 L215.7,206.53 L216.2,206.80 L216.7,207.06 L217.2,207.32 L217.7,207.57 L218.2,207.82 L218.7,208.06 L219.2,208.30 L219.7,208.53 L220.2,208.76 L220.7,208.99 L221.2,209.21 L221.7,209.42 L222.2,209.64 L222.7,209.85 L223.2,210.05 L223.7,210.25 L224.2,210.45 L224.7,210.64 L225.2,210.83 L225.7,211.02 L226.2,211.20 L226.7,211.38 L227.2,211.55 L227.7,211.72 L228.2,211.89 L228.7,212.06 L229.2,212.22 L229.7,212.38 L230.2,212.54 L230.7,212.69 L231.2,212.84 L231.7,212.99 L232.2,213.14 L232.7,213.28 L233.2,213.42 L233.7,213.56 L234.2,213.69 L234.7,213.82 L235.2,213.95 L235.7,214.08 L236.2,214.21 L236.7,214.33 L237.2,214.45 L237.7,214.57 L238.2,214.69 L238.7,214.80 L239.2,214.91 L239.7,215.02 L240.2,215.13 L240.7,215.24 L241.2,215.34 L241.7,215.44 L242.2,215.54 L242.6,215.64 L243.1,215.74 L243.6,215.83 L244.1,215.93 L244.6,216.02 L245.1,216.11 L245.6,216.20 L246.1,216.29 L246.6,216.37 L247.1,216.46 L247.6,216.54 L248.1,216.62 L248.6,216.70 L249.1,216.78 L249.6,216.85 L250.1,216.93 L250.6,217.00 L251.1,217.08 L251.6,217.15 L252.1,217.22 L252.6,217.29 L253.1,217.36 L253.6,217.42 L254.1,217.49 L254.6,217.55 L255.1,217.62 L255.6,217.68 L256.1,217.74 L256.6,217.80 L257.1,217.86 L257.6,217.92 L258.1,217.98 L258.6,218.03 L259.1,218.09 L259.6,218.14 L260.1,218.20 L260.6,218.25 L261.1,218.30 L261.6,218.35 L262.1,218.40 L262.6,218.45 L263.1,218.50 L263.6,218.55 L264.1,218.59 L264.6,218.64 L265.1,218.68 L265.6,218.73 L266.1,218.77 L266.6,218.81 L267.1,218.86 L267.6,218.90 L268.1,218.94 L268.6,218.98 L269.1,219.02 L269.6,219.06 L270.1,219.10 L270.6,219.13 L271.1,219.17 L271.6,219.21 L272.1,219.24 L272.6,219.28 L273.1,219.31 L273.6,219.35 L274.1,219.38 L274.6,219.42 L275.1,219.45 L275.6,219.48 L276.1,219.51 L276.6,219.54 L277.1,219.57 L277.6,219.60 L278.1,219.63 L278.6,219.66 L279.1,219.69 L279.6,219.72 L280.1,219.75 L280.6,219.78 L281.1,219.80 L281.6,219.83 L282.1,219.86 L282.6,219.88 L283.1,219.91 L283.6,219.93 L284.1,219.96 L284.6,219.98 L285.1,220.00 L285.6,220.03 L286.1,220.05 L286.6,220.07 L287.1,220.10 L287.6,220.12 L288.1,220.14 L288.6,220.16 L289.1,220.18 L289.6,220.20 L290.1,220.22 L290.6,220.24 L291.1,220.26 L291.6,220.28 L292.1,220.30 L292.6,220.32 L293.1,220.34 L293.6,220.36 L294.1,220.38 L294.6,220.40 L295.1,220.41 L295.6,220.43 L296.1,220.45 L296.6,220.47 L297.1,220.48 L297.6,220.50 L298.1,220.51 L298.6,220.53 L299.1,220.55 L299.6,220.56 L300.1,220.58 L300.6,220.59 L301.1,220.61 L301.6,220.62 L302.1,220.64 L302.6,220.65 L303.1,220.66 L303.6,220.68 L304.1,220.69 L304.6,220.71 L305.1,220.72 L305.6,220.73 L306.1,220.74 L306.6,220.76 L307.1,220.77 L307.6,220.78 L308.1,220.79 L308.6,220.81 L309.1,220.82 L309.6,220.83 L310.1,220.84 L310.6,220.85 L311.1,220.86 L311.6,220.87 L312.1,220.89 L312.6,220.90 L313.1,220.91 L313.6,220.92 L314.1,220.93 L314.6,220.94 L315.1,220.95 L315.6,220.96 L316.1,220.97 L316.6,220.98 L317.1,220.99 L317.6,221.00 L318.1,221.01 L318.6,221.01 L319.1,221.02 L319.6,221.03 L320.1,221.04 L320.6,221.05 L321.1,221.06 L321.6,221.07 L322.1,221.08 L322.6,221.08 L323.1,221.09 L323.6,221.10 L324.1,221.11 L324.6,221.12 L325.1,221.12 L325.6,221.13 L326.1,221.14 L326.6,221.15 L327.1,221.15 L327.6,221.16 L328.1,221.17 L328.6,221.17 L329.1,221.18 L329.6,221.19 L330.1,221.19 L330.6,221.20 L331.1,221.21 L331.6,221.21 L332.1,221.22 L332.6,221.23 L333.1,221.23 L333.6,221.24 L334.1,221.25 L334.6,221.25 L335.1,221.26 L335.6,221.26 L336.1,221.27 L336.6,221.27 L337.1,221.28 L337.6,221.29 L338.1,221.29 L338.6,221.30 L339.1,221.30 L339.6,221.31 L340.1,221.31 L340.6,221.32 L341.1,221.32 L341.6,221.33 L342.1,221.33 L342.6,221.34 L343.1,221.34 L343.6,221.35 L344.1,221.35 L344.6,221.36 L345.1,221.36 L345.6,221.37 L346.1,221.37 L346.6,221.38 L347.1,221.38 L347.6,221.38 L348.1,221.39 L348.6,221.39 L349.1,221.40 L349.6,221.40 L350.1,221.41 L350.6,221.41 L351.1,221.41 L351.6,221.42 L352.1,221.42 L352.6,221.42 L353.1,221.43 L353.6,221.43 L354.1,221.44 L354.6,221.44 L355.1,221.44 L355.6,221.45 L356.1,221.45 L356.6,221.45 L357.1,221.46 L357.6,221.46 L358.1,221.46 L358.6,221.47 L359.1,221.47 L359.6,221.47 L360.1,221.48 L360.6,221.48 L361.1,221.48 L361.6,221.49 L362.1,221.49 L362.6,221.49 L363.1,221.50 L363.6,221.50 L364.1,221.50 L364.6,221.51 L365.1,221.51 L365.6,221.51 L366.1,221.51 L366.6,221.52 L367.1,221.52 L367.6,221.52 L368.1,221.52 L368.6,221.53 L369.1,221.53 L369.6,221.53 L370.1,221.53 L370.6,221.54 L371.1,221.54 L371.6,221.54 L372.1,221.54 L372.6,221.55 L373.1,221.55 L373.6,221.55 L374.1,221.55 L374.6,221.56 L375.1,221.56 L375.6,221.56 L376.1,221.56 L376.6,221.57 L377.1,221.57 L377.6,221.57 L378.1,221.57 L378.6,221.57 L379.1,221.58 L379.6,221.58 L380.1,221.58 L380.6,221.58 L381.1,221.58 L381.6,221.59 L382.1,221.59 L382.6,221.59 L383.1,221.59 L383.6,221.59 L384.1,221.60 L384.6,221.60 L385.1,221.60 L385.6,221.60 L386.1,221.60 L386.6,221.61 L387.1,221.61 L387.6,221.61 L388.1,221.61 L388.6,221.61 L389.1,221.61 L389.6,221.62 L390.1,221.62 L390.6,221.62 L391.1,221.62 L391.6,221.62 L392.1,221.62 L392.6,221.63 L393.1,221.63 L393.6,221.63 L394.1,221.63 L394.6,221.63 L395.1,221.63 L395.6,221.63 L396.1,221.64 L396.6,221.64 L397.1,221.64 L397.6,221.64 L398.1,221.64 L398.6,221.64 L399.1,221.64 L399.6,221.65 L400.1,221.65 L400.6,221.65 L401.1,221.65 L401.6,221.65 L402.1,221.65 L402.6,221.65 L403.1,221.66 L403.6,221.66 L404.1,221.66 L404.6,221.66 L405.1,221.66 L405.6,221.66 L406.1,221.66 L406.6,221.66 L407.1,221.67 L407.6,221.67 L408.1,221.67 L408.6,221.67 L409.1,221.67 L409.6,221.67 L410.1,221.67 L410.6,221.67 L411.1,221.67 L411.6,221.68 L412.1,221.68 L412.6,221.68 L413.1,221.68 L413.6,221.68 L414.1,221.68 L414.6,221.68 L415.1,221.68 L415.6,221.68 L416.1,221.68 L416.6,221.69 L417.1,221.69 L417.6,221.69 L418.1,221.69 L418.6,221.69 L419.1,221.69 L419.6,221.69 L420.1,221.69 L420.6,221.69 L421.1,221.69 L421.6,221.69 L422.1,221.70 L422.6,221.70 L423.1,221.70" stroke="#ff0000" stroke-width="1.6" stroke-dasharray="5 2.637" fill="none"/>
<path d="M313.6,27.1 H350.8" stroke="#0000ff" stroke-width="1.4" fill="none"/>
<path d="M313.6,44.85 H350.8" stroke="#00ff00" stroke-width="1.7" stroke-dasharray="2.8 1.05" fill="none"/>
<path d="M313.6,62.6 H350.8" stroke="#ff0000" stroke-width="1.6" stroke-dasharray="5.1 2.45" fill="none"/>
<g style="filter:grayscale(1)">
<text x="355.6" y="30" font-size="10.8">closed</text>
<text x="355.6" y="46.8" font-size="10.8">open</text>
<text x="357" y="65.5" font-size="10.8">flat</text>
<text x="60.4" y="245.7" font-size="11" text-anchor="middle">0</text>
<text x="132.79999999999998" y="245.7" font-size="11" text-anchor="middle"><tspan font-style="italic">l</tspan><tspan font-style="italic" font-size="7.6" dy="2.1">p</tspan></text>
<text x="205.0" y="245.7" font-size="11" text-anchor="middle">2<tspan font-style="italic">l</tspan><tspan font-style="italic" font-size="7.6" dy="2.1">p</tspan></text>
<text x="277.20000000000005" y="245.7" font-size="11" text-anchor="middle">3<tspan font-style="italic">l</tspan><tspan font-style="italic" font-size="7.6" dy="2.1">p</tspan></text>
<text x="349.40000000000003" y="245.7" font-size="11" text-anchor="middle">4<tspan font-style="italic">l</tspan><tspan font-style="italic" font-size="7.6" dy="2.1">p</tspan></text>
<text x="421.6" y="245.7" font-size="11" text-anchor="middle">5<tspan font-style="italic">l</tspan><tspan font-style="italic" font-size="7.6" dy="2.1">p</tspan></text>
<text x="50.2" y="224.8" font-size="11" text-anchor="end">0</text>
<text x="49.9" y="134.7" font-size="11" text-anchor="end">0.5<tspan font-style="italic">H</tspan><tspan font-style="italic" font-size="7.6" dy="2.1">p</tspan></text>
<text x="49.8" y="46.1" font-size="11" text-anchor="end"><tspan font-style="italic">H</tspan><tspan font-style="italic" font-size="7.6" dy="2.1">p</tspan></text>
<text x="212" y="270.2" font-size="10.8">scalar factor</text>
<text transform="translate(8.6,161.5) rotate(-90)" font-size="10.9">Hubble parameter</text>
</g>
</svg>
</body></html>
